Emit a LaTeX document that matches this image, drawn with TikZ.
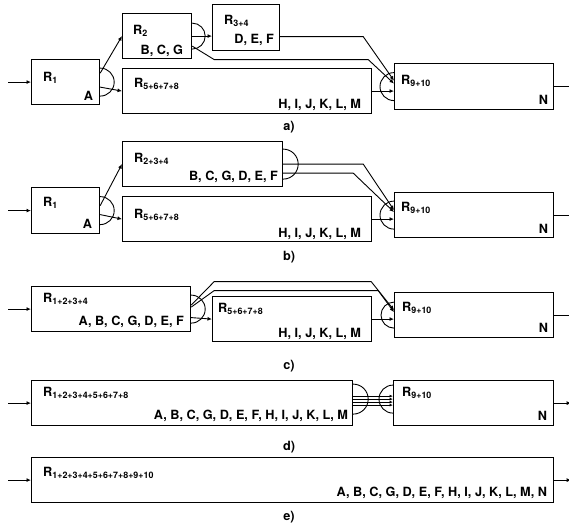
\documentclass[tikz,border=0pt]{standalone}
\usepackage{fontspec}
\setmainfont{TeX Gyre Heros}
\usetikzlibrary{positioning, arrows.meta}

\begin{document}
\begin{tikzpicture}[
  x=1pt, y=-1pt,
  font=\bfseries\fontsize{12.7}{15}\selectfont,
  box/.style={draw, line width=1.2pt, anchor=north west, inner sep=0pt},
  rname/.style={anchor=north west, inner sep=0pt},
  vars/.style={anchor=base east, inner sep=0pt},
  flow/.style={-{Latex[length=4.5pt, width=4pt]}, line width=0.9pt},
  thin flow/.style={-{Latex[length=3.5pt, width=3pt]}, line width=0.8pt},
  wire/.style={line width=0.9pt},
  fork/.style={line width=0.9pt},
  tag/.style={inner sep=0pt}
]
\useasboundingbox (0,0) rectangle (569,525);

% --- a) ---
\node[box, minimum width=68pt, minimum height=45pt] (a1) at (31,59) {};
\node[box, minimum width=69pt, minimum height=45pt] (a2) at (122,13) {};
\node[box, minimum width=67pt, minimum height=46pt] (a34) at (212,4) {};
\node[box, minimum width=249pt, minimum height=45pt] (a58) at (122,68) {};
\node[box, minimum width=159pt, minimum height=46pt] (a910) at (394,63) {};
\node[rname] at ([shift={(12,13)}]a1.north west) {R\textsubscript{1}};
\node[vars] at ([shift={(-7,-5)}]a1.south east) {A};
\node[rname] at ([shift={(11,12)}]a2.north west) {R\textsubscript{2}};
\node[vars] at ([shift={(-9,-5)}]a2.south east) {B, C, G};
\node[rname] at ([shift={(12,11)}]a34.north west) {R\textsubscript{3+4}};
\node[vars] at ([shift={(-6,-8)}]a34.south east) {D, E, F};
\node[rname] at ([shift={(12,10)}]a58.north west) {R\textsubscript{5+6+7+8}};
\node[vars] at ([shift={(-11,-6)}]a58.south east) {H, I, J, K, L, M};
\node[rname] at ([shift={(7,12)}]a910.north west) {R\textsubscript{9+10}};
\node[vars] at ([shift={(-6,-6)}]a910.south east) {N};
\draw[flow] (a1.west) ++(-23,0) -- (a1.west);
\draw[fork] ([yshift=14pt]a1.east) arc[start angle=90, end angle=-90, radius=14pt];
\draw[flow] ([yshift=9pt]a1.east) -- (a2.west);
\draw[flow] ([yshift=-5pt]a1.east) -- (a58.west);
\draw[fork] ([yshift=13pt]a2.east) arc[start angle=90, end angle=-90, radius=13pt];
\draw[flow] (a2.east) -- (a2.east -| a34.west);
\draw[flow] ([yshift=-10pt]a2.east) -- ++(22,13.5) -- ++(154,0) -- ([yshift=3pt]a910.west);
\draw[flow] ([yshift=-9pt]a34.east) -- ++(83,0) -- ([yshift=6pt]a910.west);
\draw[flow] (a58.east) -- (a58.east -| a910.west);
\draw[fork] ([yshift=14pt]a910.west) arc[start angle=90, end angle=270, radius=14pt];
\draw[wire] (a910.east) -- ++(16,0);
\node[tag] (la) at (289,127) {a)};

% --- b) ---
\node[box, minimum width=68pt, minimum height=46pt] (b1) at (31,187) {};
\node[box, minimum width=160pt, minimum height=45pt] (b24) at (122,141) {};
\node[box, minimum width=249pt, minimum height=45pt] (b58) at (122,196) {};
\node[box, minimum width=159pt, minimum height=45pt] (b910) at (394,192) {};
\node[rname] at ([shift={(12,10)}]b1.north west) {R\textsubscript{1}};
\node[vars] at ([shift={(-8,-6)}]b1.south east) {A};
\node[rname] at ([shift={(12,12)}]b24.north west) {R\textsubscript{2+3+4}};
\node[vars] at ([shift={(-5,-7)}]b24.south east) {B, C, G, D, E, F};
\node[rname] at ([shift={(12,13)}]b58.north west) {R\textsubscript{5+6+7+8}};
\node[vars] at ([shift={(-11,-5)}]b58.south east) {H, I, J, K, L, M};
\node[rname] at ([shift={(7,10)}]b910.north west) {R\textsubscript{9+10}};
\node[vars] at ([shift={(-6,-5)}]b910.south east) {N};
\draw[flow] (b1.west) ++(-23,0) -- (b1.west);
\draw[fork] ([yshift=14pt]b1.east) arc[start angle=90, end angle=-90, radius=14pt];
\draw[flow] ([yshift=5pt]b1.east) -- (b24.west);
\draw[flow] ([yshift=-4pt]b1.east) -- (b58.west);
\draw[fork] ([yshift=15pt]b24.east) arc[start angle=90, end angle=-90, radius=15pt];
\draw[flow] (b24.east) -- ++(80,0) -- ([yshift=5pt]b910.west);
\draw[flow] ([yshift=-9pt]b24.east) -- ++(70,0) -- ([yshift=3pt]b910.west);
\draw[flow] (b58.east) -- (b58.east -| b910.west);
\draw[fork] ([yshift=14pt]b910.west) arc[start angle=90, end angle=270, radius=14pt];
\draw[wire] (b910.east) -- ++(16,0);
\node[tag] (lb) at (289,257) {b)};

% --- c) ---
\node[box, minimum width=159pt, minimum height=45pt] (c14) at (31,286) {};
\node[box, minimum width=159pt, minimum height=45pt] (c58) at (212,296) {};
\node[box, minimum width=159pt, minimum height=45pt] (c910) at (394,292) {};
\node[rname] at ([shift={(12,7)}]c14.north west) {R\textsubscript{1+2+3+4}};
\node[vars] at ([shift={(-7,-7)}]c14.south east) {A, B, C, G, D, E, F};
\node[rname] at ([shift={(6,7)}]c58.north west) {R\textsubscript{5+6+7+8}};
\node[vars] at ([shift={(-11,-5)}]c58.south east) {H, I, J, K, L, M};
\node[rname] at ([shift={(8,10)}]c910.north west) {R\textsubscript{9+10}};
\node[vars] at ([shift={(-6,-6)}]c910.south east) {N};
\draw[flow] (c14.west) ++(-23,0) -- (c14.west);
\draw[fork] ([yshift=14pt]c14.east) arc[start angle=90, end angle=-90, radius=14pt];
\draw[flow] ([yshift=-8.5pt]c14.east) -- (c58.west);
\draw[flow] ([yshift=4pt]c14.east) -- ++(23,-23.5) -- ++(157,0) -- ([yshift=5pt]c910.west);
\draw[flow] ([yshift=2pt]c14.east) -- ++(23,-16.5) -- ++(164,0) -- ([yshift=3pt]c910.west);
\draw[flow] (c58.east) -- (c58.east -| c910.west);
\draw[fork] ([yshift=13pt]c910.west) arc[start angle=90, end angle=270, radius=13pt];
\draw[wire] (c910.east) -- ++(16,0);
\node[tag] (lc) at (289,366) {c)};

% --- d) ---
\node[box, minimum width=321pt, minimum height=45pt] (d18) at (31,380) {};
\node[box, minimum width=160pt, minimum height=45pt] (d910) at (393,380) {};
\node[rname] at ([shift={(12,7)}]d18.north west) {R\textsubscript{1+2+3+4+5+6+7+8}};
\node[vars] at ([shift={(-5,-7)}]d18.south east) {A, B, C, G, D, E, F, H, I, J, K, L, M};
\node[rname] at ([shift={(9,7)}]d910.north west) {R\textsubscript{9+10}};
\node[vars] at ([shift={(-7,-6)}]d910.south east) {N};
\draw[flow] (d18.west) ++(-23,0) -- (d18.west);
\draw[fork] ([yshift=19pt]d18.east) arc[start angle=90, end angle=-90, radius=15pt];
\foreach \dy in {7,4,1,-2}
  \draw[thin flow] ([yshift=\dy pt]d18.east) -- ([yshift=\dy pt]d910.west);
\draw[fork] ([yshift=18pt]d910.west) arc[start angle=90, end angle=270, radius=14pt];
\draw[flow] (d910.east) -- ++(17,0);
\node[tag] (ld) at (289,447) {d)};

% --- e) ---
\node[box, minimum width=522pt, minimum height=45pt] (e110) at (31,457) {};
\node[rname] at ([shift={(12,10)}]e110.north west) {R\textsubscript{1+2+3+4+5+6+7+8+9+10}};
\node[vars] at ([shift={(-7,-7)}]e110.south east) {A, B, C, G, D, E, F, H, I, J, K, L, M, N};
\draw[flow] (e110.west) ++(-23,0) -- (e110.west);
\draw[flow] (e110.east) -- ++(17,0);
\node[tag] (le) at (289,517) {e)};
\end{tikzpicture}
\end{document}
